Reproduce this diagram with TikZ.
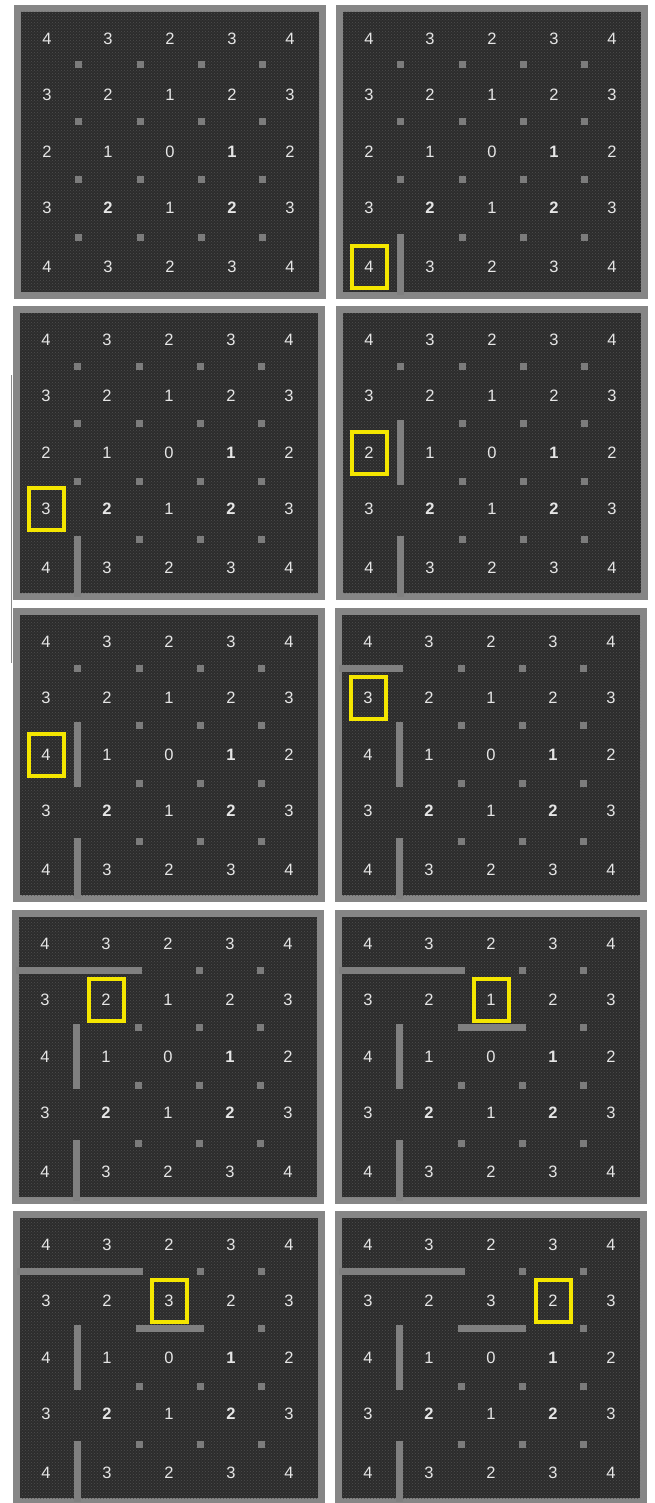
\documentclass[tikz,border=0pt]{standalone}
\usepackage{fontspec}
\setmainfont{Liberation Sans}
\usetikzlibrary{patterns}
\definecolor{field}{HTML}{2C2C2C}
\definecolor{grain}{HTML}{4E4E4E}
\definecolor{rim}{HTML}{868686}
\definecolor{wallc}{HTML}{808080}
\definecolor{dotc}{HTML}{7C7C7C}
\definecolor{digit}{HTML}{E6E6E6}
\definecolor{hl}{HTML}{F4E600}
\definecolor{stray}{HTML}{8A8A8A}
\tikzset{
  rimbox/.style={fill=rim},
  fieldbox/.style={fill=field},
  grainbox/.style={pattern=crosshatch dots, pattern color=grain},
  griddot/.style={fill=dotc},
  wallbar/.style={draw=wallc, line width=7pt, line cap=rect},
  num/.style={text=digit, font=\fontsize{16.5}{16.5}\selectfont, inner sep=0pt},
  numb/.style={text=digit, font=\fontsize{16.5}{16.5}\selectfont\bfseries, inner sep=0pt},
  hlbox/.style={draw=hl, line width=4pt, minimum width=35pt, minimum height=42pt, inner sep=0pt},
}
% #1 id, #2 left, #3 top, #4 rows, #5 box col (0 = none), #6 box row, #7 walls
\newcommand{\mazepanel}[7]{%
  \begin{scope}[shift={(#2,#3)}]
    \fill[rimbox] (-7,-7) rectangle (305,287);
    \fill[fieldbox] (0,0) rectangle (298,280);
    \fill[grainbox] (0,0) rectangle (298,280);
    \foreach \dx in {57,119,180,241}{%
      \foreach \dy in {53,110,168,226}{%
        \fill[griddot] (\dx-3.5,\dy-3.5) rectangle ++(7,7);}}
    #7
    \foreach \row [count=\r] in {#4}{%
      \foreach \v [count=\c] in \row {%
        \pgfmathsetmacro\nx{{26,87,149,211,269}[\c-1]}%
        \pgfmathsetmacro\ny{{27,83,140,196,255}[\r-1]}%
        \pgfmathtruncatemacro\isb{((\r==3)&&(\c==4))||((\r==4)&&((\c==2)||(\c==4)))}%
        \ifnum\isb=1
          \node[numb] (n#1-\r-\c) at (\nx,\ny) {\v};
        \else
          \node[num] (n#1-\r-\c) at (\nx,\ny) {\v};
        \fi
      }}
    \ifnum#5>0
      \node[hlbox] (box#1) at (n#1-#6-#5) {};
    \fi
  \end{scope}}
\newcommand{\wallA}{\draw[wallbar] (57,226) -- (57,280);}
\newcommand{\wallB}{\draw[wallbar] (57,110) -- (57,168);}
\newcommand{\wallC}{\draw[wallbar] (0,53) -- (57,53);}
\newcommand{\wallD}{\draw[wallbar] (0,53) -- (119,53);}
\newcommand{\wallE}{\draw[wallbar] (119,110) -- (180,110);}
\begin{document}
\begin{tikzpicture}[x=1pt,y=-1pt]
  \path[use as bounding box] (0,0) rectangle (654,1503);
  \clip (0,0) rectangle (654,1503);
  \fill[white] (0,0) rectangle (654,1503);
  \mazepanel{1}{21}{12}{{4,3,2,3,4},{3,2,1,2,3},{2,1,0,1,2},{3,2,1,2,3},{4,3,2,3,4}}{0}{0}{}
  \mazepanel{2}{343}{12}{{4,3,2,3,4},{3,2,1,2,3},{2,1,0,1,2},{3,2,1,2,3},{4,3,2,3,4}}{1}{5}{\wallA}
  \mazepanel{3}{20}{313}{{4,3,2,3,4},{3,2,1,2,3},{2,1,0,1,2},{3,2,1,2,3},{4,3,2,3,4}}{1}{4}{\wallA}
  \mazepanel{4}{343}{313}{{4,3,2,3,4},{3,2,1,2,3},{2,1,0,1,2},{3,2,1,2,3},{4,3,2,3,4}}{1}{3}{\wallA\wallB}
  \mazepanel{5}{20}{615}{{4,3,2,3,4},{3,2,1,2,3},{4,1,0,1,2},{3,2,1,2,3},{4,3,2,3,4}}{1}{3}{\wallA\wallB}
  \mazepanel{6}{342}{615}{{4,3,2,3,4},{3,2,1,2,3},{4,1,0,1,2},{3,2,1,2,3},{4,3,2,3,4}}{1}{2}{\wallA\wallB\wallC}
  \mazepanel{7}{19}{917}{{4,3,2,3,4},{3,2,1,2,3},{4,1,0,1,2},{3,2,1,2,3},{4,3,2,3,4}}{2}{2}{\wallA\wallB\wallD}
  \mazepanel{8}{342}{917}{{4,3,2,3,4},{3,2,1,2,3},{4,1,0,1,2},{3,2,1,2,3},{4,3,2,3,4}}{3}{2}{\wallA\wallB\wallD\wallE}
  \mazepanel{9}{20}{1218}{{4,3,2,3,4},{3,2,3,2,3},{4,1,0,1,2},{3,2,1,2,3},{4,3,2,3,4}}{3}{2}{\wallA\wallB\wallD\wallE}
  \mazepanel{10}{342}{1218}{{4,3,2,3,4},{3,2,3,2,3},{4,1,0,1,2},{3,2,1,2,3},{4,3,2,3,4}}{4}{2}{\wallA\wallB\wallD\wallE}
  \draw[stray, line width=0.8pt] (11,375) -- (11,663);
\end{tikzpicture}
\end{document}
